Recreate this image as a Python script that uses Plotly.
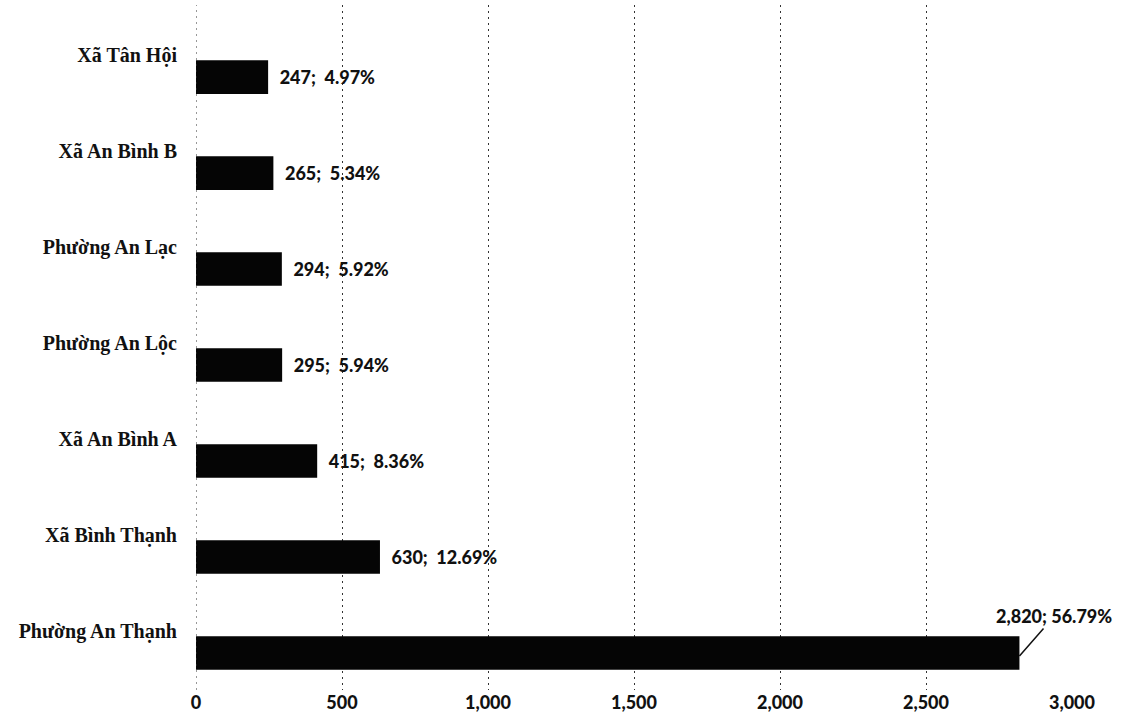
import plotly.graph_objects as go

categories = ["Xã Tân Hội", "Xã An Bình B", "Phường An Lạc", "Phường An Lộc",
              "Xã An Bình A", "Xã Bình Thạnh", "Phường An Thạnh"]
values = [247, 265, 294, 295, 415, 630, 2820]
percents = [4.97, 5.34, 5.92, 5.94, 8.36, 12.69, 56.79]
x_ticks = [0, 500, 1000, 1500, 2000, 2500, 3000]

NB = "\u00a0"
labels = [f"{v:,};{NB}{NB}{p:.2f}%" for v, p in zip(values, percents)]
bar_text = [NB * 2 + t for t in labels[:-1]] + [""]
last_label = f"{values[-1]:,}; {percents[-1]:.2f}%"

LABEL_FONT = dict(family="Lato", size=18, color="#111", weight=900)

fig = go.Figure()
fig.add_trace(go.Bar(
    y=categories, x=values, orientation="h",
    marker=dict(color="#050505", line=dict(width=0)),
    width=0.35, offset=0.055,
    text=bar_text, textposition="outside",
    textfont=LABEL_FONT,
    cliponaxis=False,
))

fig.add_annotation(
    x=values[-1], y=categories[-1], yshift=-25,
    text=last_label, showarrow=True, arrowhead=0, arrowwidth=1.5,
    arrowcolor="#111", ax=35, ay=-40, standoff=0,
    font=LABEL_FONT,
)

fig.update_layout(
    width=1124, height=715,
    margin=dict(l=196, r=52, t=5, b=25),
    paper_bgcolor="white", plot_bgcolor="white",
    showlegend=False,
    xaxis=dict(
        range=[0, 3000], tickvals=x_ticks,
        tickformat=",d", showgrid=True, gridcolor="#333", griddash="2px,4px",
        gridwidth=1, zeroline=False, showline=False, automargin=False,
        tickfont=dict(family="Lato", size=18, color="#111", weight=900),
    ),
    yaxis=dict(
        type="category", categoryorder="array", categoryarray=categories,
        range=[6.615, -0.521], showgrid=False, zeroline=False,
        showline=False, ticks="", ticklabelstandoff=18, automargin=False,
        tickfont=dict(family="Liberation Serif", size=20, color="#111", weight="bold"),
    ),
)
fig.add_vline(x=0, line=dict(color="#333", width=1, dash="2px,4px"))

fig.write_html("out.html")
